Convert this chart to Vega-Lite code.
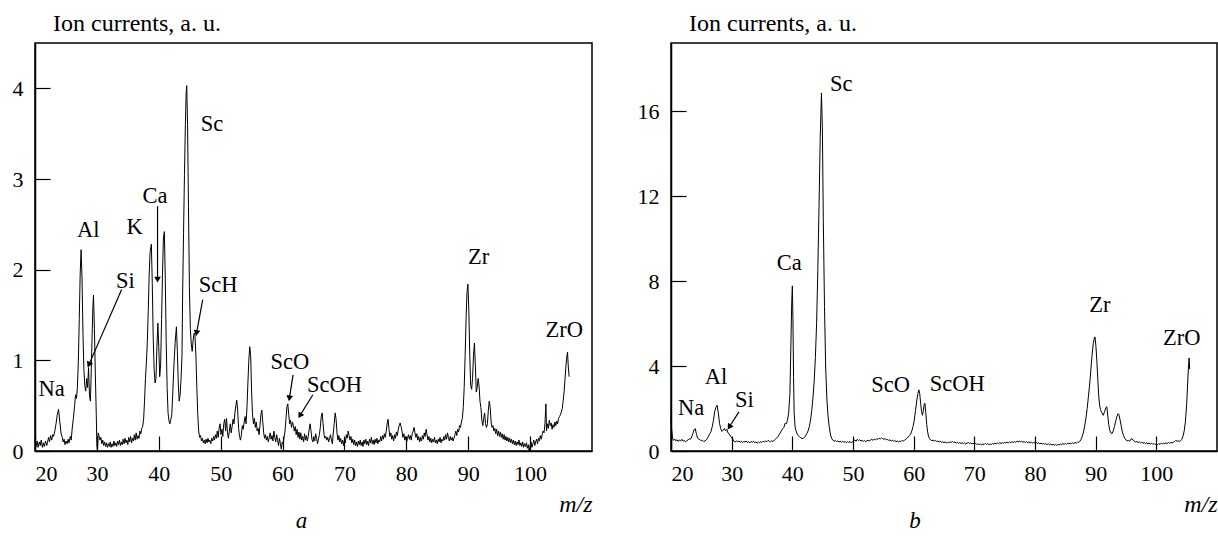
{
"$schema": "https://vega.github.io/schema/vega-lite/v6.json",
"background": "white",
"padding": {"left": 11, "top": 10, "right": 0, "bottom": 0},
"spacing": 43,
"config": {
  "font": "Liberation Serif",
  "view": {"stroke": "black", "strokeWidth": 1.5},
  "axis": {"grid": false, "domainColor": "black", "domainWidth": 1.5, "tickColor": "black", "tickWidth": 1.2, "tickSize": -15,
    "labelFont": "Liberation Serif", "labelFontSize": 22, "labelColor": "black",
    "titleFont": "Liberation Serif", "titleFontSize": 24, "titleFontWeight": "normal", "titleColor": "black"},
  "axisX": {"labelPadding": 27.5, "labelAngle": 0},
  "axisY": {"labelPadding": 27, "format": "d"},
  "title": {"font": "Liberation Serif", "fontSize": 23, "fontWeight": "normal", "fontStyle": "italic", "color": "black"}
},
"datasets": {
  "specA": [
{"mz":20.0,"val":0.12},{"mz":20.2,"val":0.05},{"mz":20.35,"val":0.11},{"mz":20.5,"val":0.04},{"mz":20.7,"val":0.10},{"mz":20.85,"val":0.06},{"mz":21.0,"val":0.12},{"mz":21.2,"val":0.04},{"mz":21.35,"val":0.09},{"mz":21.5,"val":0.05},{"mz":21.7,"val":0.11},{"mz":21.9,"val":0.06},{"mz":22.0,"val":0.09},{"mz":22.2,"val":0.15},{"mz":22.35,"val":0.10},{"mz":22.5,"val":0.17},{"mz":22.7,"val":0.12},{"mz":22.85,"val":0.18},{"mz":23.0,"val":0.16},{"mz":23.2,"val":0.22},{"mz":23.4,"val":0.30},{"mz":23.6,"val":0.40},{"mz":23.8,"val":0.46},{"mz":24.0,"val":0.33},{"mz":24.2,"val":0.20},{"mz":24.4,"val":0.15},{"mz":24.55,"val":0.10},{"mz":24.7,"val":0.13},{"mz":24.85,"val":0.07},{"mz":25.0,"val":0.11},{"mz":25.2,"val":0.08},{"mz":25.35,"val":0.13},{"mz":25.5,"val":0.09},{"mz":25.7,"val":0.16},{"mz":25.85,"val":0.12},{"mz":26.0,"val":0.24},{"mz":26.2,"val":0.36},{"mz":26.4,"val":0.50},{"mz":26.55,"val":0.62},{"mz":26.7,"val":0.58},{"mz":26.85,"val":0.70},{"mz":27.0,"val":0.98},{"mz":27.15,"val":1.45},{"mz":27.3,"val":1.95},{"mz":27.45,"val":2.22},{"mz":27.6,"val":1.90},{"mz":27.75,"val":1.30},{"mz":27.9,"val":0.90},{"mz":28.05,"val":0.72},{"mz":28.2,"val":0.66},{"mz":28.35,"val":0.80},{"mz":28.5,"val":0.70},{"mz":28.65,"val":0.92},{"mz":28.8,"val":0.62},{"mz":28.95,"val":0.55},{"mz":29.05,"val":0.78},{"mz":29.2,"val":1.20},{"mz":29.35,"val":1.58},{"mz":29.45,"val":1.72},{"mz":29.6,"val":1.35},{"mz":29.75,"val":0.85},{"mz":29.9,"val":0.40},{"mz":30.0,"val":0.05},{"mz":30.1,"val":0.00},{"mz":30.2,"val":0.20},{"mz":30.35,"val":0.17},{"mz":30.5,"val":0.12},{"mz":30.65,"val":0.15},{"mz":30.8,"val":0.08},{"mz":30.95,"val":0.12},{"mz":31.1,"val":0.06},{"mz":31.25,"val":0.10},{"mz":31.4,"val":0.05},{"mz":31.55,"val":0.09},{"mz":31.7,"val":0.04},{"mz":31.85,"val":0.08},{"mz":32.0,"val":0.05},{"mz":32.15,"val":0.10},{"mz":32.3,"val":0.04},{"mz":32.45,"val":0.08},{"mz":32.6,"val":0.05},{"mz":32.75,"val":0.11},{"mz":32.9,"val":0.06},{"mz":33.05,"val":0.09},{"mz":33.2,"val":0.05},{"mz":33.35,"val":0.11},{"mz":33.5,"val":0.07},{"mz":33.65,"val":0.12},{"mz":33.8,"val":0.06},{"mz":33.95,"val":0.10},{"mz":34.1,"val":0.07},{"mz":34.25,"val":0.13},{"mz":34.4,"val":0.08},{"mz":34.55,"val":0.14},{"mz":34.7,"val":0.09},{"mz":34.85,"val":0.12},{"mz":35.0,"val":0.07},{"mz":35.15,"val":0.15},{"mz":35.3,"val":0.10},{"mz":35.45,"val":0.16},{"mz":35.6,"val":0.09},{"mz":35.75,"val":0.14},{"mz":35.9,"val":0.11},{"mz":36.05,"val":0.18},{"mz":36.2,"val":0.12},{"mz":36.35,"val":0.20},{"mz":36.5,"val":0.13},{"mz":36.65,"val":0.17},{"mz":36.8,"val":0.14},{"mz":36.95,"val":0.22},{"mz":37.1,"val":0.19},{"mz":37.25,"val":0.25},{"mz":37.4,"val":0.27},{"mz":37.55,"val":0.35},{"mz":37.7,"val":0.55},{"mz":37.85,"val":0.80},{"mz":38.0,"val":0.98},{"mz":38.15,"val":1.20},{"mz":38.3,"val":1.55},{"mz":38.45,"val":1.95},{"mz":38.6,"val":2.20},{"mz":38.8,"val":2.28},{"mz":38.95,"val":1.85},{"mz":39.1,"val":1.25},{"mz":39.25,"val":0.90},{"mz":39.4,"val":0.75},{"mz":39.55,"val":0.80},{"mz":39.7,"val":1.15},{"mz":39.85,"val":1.41},{"mz":40.0,"val":1.15},{"mz":40.15,"val":0.82},{"mz":40.3,"val":0.95},{"mz":40.45,"val":1.45},{"mz":40.6,"val":1.95},{"mz":40.75,"val":2.35},{"mz":40.9,"val":2.42},{"mz":41.05,"val":1.90},{"mz":41.2,"val":1.20},{"mz":41.35,"val":0.70},{"mz":41.5,"val":0.42},{"mz":41.65,"val":0.33},{"mz":41.8,"val":0.30},{"mz":41.95,"val":0.35},{"mz":42.1,"val":0.40},{"mz":42.25,"val":0.62},{"mz":42.45,"val":0.95},{"mz":42.65,"val":1.20},{"mz":42.85,"val":1.37},{"mz":43.0,"val":1.10},{"mz":43.15,"val":0.75},{"mz":43.3,"val":0.55},{"mz":43.45,"val":0.62},{"mz":43.6,"val":0.80},{"mz":43.75,"val":1.05},{"mz":43.85,"val":1.70},{"mz":44.0,"val":2.40},{"mz":44.15,"val":3.05},{"mz":44.3,"val":3.60},{"mz":44.42,"val":3.95},{"mz":44.52,"val":4.03},{"mz":44.65,"val":3.60},{"mz":44.8,"val":2.70},{"mz":44.95,"val":1.80},{"mz":45.1,"val":1.35},{"mz":45.25,"val":1.18},{"mz":45.4,"val":1.10},{"mz":45.55,"val":1.22},{"mz":45.7,"val":1.30},{"mz":45.85,"val":1.28},{"mz":46.0,"val":1.05},{"mz":46.15,"val":0.70},{"mz":46.3,"val":0.40},{"mz":46.45,"val":0.22},{"mz":46.6,"val":0.15},{"mz":46.75,"val":0.17},{"mz":46.9,"val":0.11},{"mz":47.05,"val":0.14},{"mz":47.2,"val":0.09},{"mz":47.35,"val":0.12},{"mz":47.5,"val":0.08},{"mz":47.65,"val":0.13},{"mz":47.8,"val":0.09},{"mz":47.95,"val":0.14},{"mz":48.1,"val":0.10},{"mz":48.25,"val":0.12},{"mz":48.4,"val":0.08},{"mz":48.55,"val":0.14},{"mz":48.7,"val":0.11},{"mz":48.85,"val":0.16},{"mz":49.0,"val":0.12},{"mz":49.15,"val":0.18},{"mz":49.3,"val":0.14},{"mz":49.45,"val":0.22},{"mz":49.6,"val":0.15},{"mz":49.75,"val":0.25},{"mz":49.9,"val":0.30},{"mz":50.05,"val":0.18},{"mz":50.2,"val":0.24},{"mz":50.35,"val":0.16},{"mz":50.5,"val":0.30},{"mz":50.65,"val":0.35},{"mz":50.8,"val":0.22},{"mz":50.95,"val":0.36},{"mz":51.1,"val":0.20},{"mz":51.25,"val":0.14},{"mz":51.4,"val":0.22},{"mz":51.55,"val":0.30},{"mz":51.7,"val":0.20},{"mz":51.85,"val":0.27},{"mz":52.0,"val":0.35},{"mz":52.15,"val":0.30},{"mz":52.3,"val":0.42},{"mz":52.45,"val":0.50},{"mz":52.6,"val":0.56},{"mz":52.75,"val":0.45},{"mz":52.9,"val":0.25},{"mz":53.05,"val":0.16},{"mz":53.2,"val":0.12},{"mz":53.35,"val":0.18},{"mz":53.5,"val":0.28},{"mz":53.65,"val":0.24},{"mz":53.8,"val":0.32},{"mz":53.95,"val":0.38},{"mz":54.1,"val":0.30},{"mz":54.25,"val":0.48},{"mz":54.4,"val":0.75},{"mz":54.55,"val":1.00},{"mz":54.7,"val":1.15},{"mz":54.85,"val":1.05},{"mz":55.0,"val":0.65},{"mz":55.15,"val":0.40},{"mz":55.3,"val":0.30},{"mz":55.45,"val":0.36},{"mz":55.6,"val":0.26},{"mz":55.75,"val":0.32},{"mz":55.9,"val":0.22},{"mz":56.05,"val":0.25},{"mz":56.2,"val":0.18},{"mz":56.35,"val":0.28},{"mz":56.5,"val":0.40},{"mz":56.65,"val":0.45},{"mz":56.8,"val":0.32},{"mz":56.95,"val":0.20},{"mz":57.1,"val":0.14},{"mz":57.25,"val":0.18},{"mz":57.4,"val":0.12},{"mz":57.55,"val":0.16},{"mz":57.7,"val":0.10},{"mz":57.85,"val":0.15},{"mz":58.0,"val":0.20},{"mz":58.15,"val":0.13},{"mz":58.3,"val":0.17},{"mz":58.45,"val":0.11},{"mz":58.6,"val":0.22},{"mz":58.75,"val":0.15},{"mz":58.9,"val":0.10},{"mz":59.05,"val":0.18},{"mz":59.2,"val":0.12},{"mz":59.35,"val":0.06},{"mz":59.5,"val":0.14},{"mz":59.65,"val":0.08},{"mz":59.8,"val":0.02},{"mz":59.95,"val":0.10},{"mz":60.1,"val":0.08},{"mz":60.25,"val":0.15},{"mz":60.4,"val":0.22},{"mz":60.55,"val":0.35},{"mz":60.7,"val":0.49},{"mz":60.85,"val":0.52},{"mz":61.0,"val":0.40},{"mz":61.15,"val":0.30},{"mz":61.3,"val":0.34},{"mz":61.45,"val":0.26},{"mz":61.6,"val":0.32},{"mz":61.75,"val":0.28},{"mz":61.9,"val":0.22},{"mz":62.05,"val":0.27},{"mz":62.2,"val":0.18},{"mz":62.35,"val":0.24},{"mz":62.5,"val":0.15},{"mz":62.65,"val":0.21},{"mz":62.8,"val":0.13},{"mz":62.95,"val":0.20},{"mz":63.1,"val":0.12},{"mz":63.25,"val":0.16},{"mz":63.4,"val":0.10},{"mz":63.55,"val":0.19},{"mz":63.7,"val":0.12},{"mz":63.85,"val":0.17},{"mz":64.0,"val":0.11},{"mz":64.15,"val":0.16},{"mz":64.3,"val":0.24},{"mz":64.45,"val":0.30},{"mz":64.6,"val":0.22},{"mz":64.75,"val":0.13},{"mz":64.9,"val":0.10},{"mz":65.05,"val":0.16},{"mz":65.2,"val":0.11},{"mz":65.35,"val":0.19},{"mz":65.5,"val":0.14},{"mz":65.65,"val":0.08},{"mz":65.8,"val":0.13},{"mz":65.95,"val":0.18},{"mz":66.1,"val":0.26},{"mz":66.25,"val":0.38},{"mz":66.4,"val":0.42},{"mz":66.55,"val":0.30},{"mz":66.7,"val":0.18},{"mz":66.85,"val":0.14},{"mz":67.0,"val":0.16},{"mz":67.15,"val":0.12},{"mz":67.3,"val":0.15},{"mz":67.45,"val":0.10},{"mz":67.6,"val":0.14},{"mz":67.75,"val":0.18},{"mz":67.9,"val":0.12},{"mz":68.05,"val":0.08},{"mz":68.2,"val":0.20},{"mz":68.35,"val":0.30},{"mz":68.5,"val":0.42},{"mz":68.65,"val":0.35},{"mz":68.8,"val":0.20},{"mz":68.95,"val":0.12},{"mz":69.1,"val":0.17},{"mz":69.25,"val":0.10},{"mz":69.4,"val":0.14},{"mz":69.55,"val":0.08},{"mz":69.7,"val":0.12},{"mz":69.85,"val":0.06},{"mz":70.0,"val":0.13},{"mz":70.15,"val":0.09},{"mz":70.3,"val":0.18},{"mz":70.45,"val":0.14},{"mz":70.6,"val":0.22},{"mz":70.75,"val":0.17},{"mz":70.9,"val":0.12},{"mz":71.05,"val":0.16},{"mz":71.2,"val":0.09},{"mz":71.35,"val":0.13},{"mz":71.5,"val":0.07},{"mz":71.65,"val":0.12},{"mz":71.8,"val":0.06},{"mz":71.95,"val":0.10},{"mz":72.1,"val":0.05},{"mz":72.25,"val":0.11},{"mz":72.4,"val":0.07},{"mz":72.55,"val":0.12},{"mz":72.7,"val":0.06},{"mz":72.85,"val":0.10},{"mz":73.0,"val":0.05},{"mz":73.15,"val":0.12},{"mz":73.3,"val":0.08},{"mz":73.45,"val":0.13},{"mz":73.6,"val":0.07},{"mz":73.75,"val":0.11},{"mz":73.9,"val":0.06},{"mz":74.05,"val":0.13},{"mz":74.2,"val":0.09},{"mz":74.35,"val":0.15},{"mz":74.5,"val":0.08},{"mz":74.65,"val":0.12},{"mz":74.8,"val":0.07},{"mz":74.95,"val":0.13},{"mz":75.1,"val":0.09},{"mz":75.25,"val":0.14},{"mz":75.4,"val":0.08},{"mz":75.55,"val":0.12},{"mz":75.7,"val":0.10},{"mz":75.85,"val":0.16},{"mz":76.0,"val":0.11},{"mz":76.15,"val":0.17},{"mz":76.3,"val":0.13},{"mz":76.45,"val":0.19},{"mz":76.6,"val":0.15},{"mz":76.75,"val":0.22},{"mz":76.9,"val":0.30},{"mz":77.05,"val":0.35},{"mz":77.2,"val":0.24},{"mz":77.35,"val":0.16},{"mz":77.5,"val":0.20},{"mz":77.65,"val":0.13},{"mz":77.8,"val":0.17},{"mz":77.95,"val":0.11},{"mz":78.1,"val":0.18},{"mz":78.25,"val":0.14},{"mz":78.4,"val":0.21},{"mz":78.55,"val":0.17},{"mz":78.7,"val":0.24},{"mz":78.85,"val":0.28},{"mz":79.0,"val":0.31},{"mz":79.15,"val":0.27},{"mz":79.3,"val":0.22},{"mz":79.45,"val":0.15},{"mz":79.6,"val":0.19},{"mz":79.75,"val":0.12},{"mz":79.9,"val":0.16},{"mz":80.05,"val":0.10},{"mz":80.2,"val":0.14},{"mz":80.35,"val":0.18},{"mz":80.5,"val":0.13},{"mz":80.65,"val":0.17},{"mz":80.8,"val":0.12},{"mz":80.95,"val":0.19},{"mz":81.1,"val":0.22},{"mz":81.25,"val":0.26},{"mz":81.4,"val":0.20},{"mz":81.55,"val":0.15},{"mz":81.7,"val":0.19},{"mz":81.85,"val":0.12},{"mz":82.0,"val":0.16},{"mz":82.15,"val":0.10},{"mz":82.3,"val":0.15},{"mz":82.45,"val":0.11},{"mz":82.6,"val":0.17},{"mz":82.75,"val":0.13},{"mz":82.9,"val":0.20},{"mz":83.05,"val":0.16},{"mz":83.2,"val":0.24},{"mz":83.35,"val":0.18},{"mz":83.5,"val":0.12},{"mz":83.65,"val":0.16},{"mz":83.8,"val":0.10},{"mz":83.95,"val":0.14},{"mz":84.1,"val":0.09},{"mz":84.25,"val":0.13},{"mz":84.4,"val":0.10},{"mz":84.55,"val":0.15},{"mz":84.7,"val":0.09},{"mz":84.85,"val":0.12},{"mz":85.0,"val":0.08},{"mz":85.15,"val":0.13},{"mz":85.3,"val":0.10},{"mz":85.45,"val":0.15},{"mz":85.6,"val":0.09},{"mz":85.75,"val":0.13},{"mz":85.9,"val":0.11},{"mz":86.05,"val":0.16},{"mz":86.2,"val":0.12},{"mz":86.35,"val":0.18},{"mz":86.5,"val":0.13},{"mz":86.65,"val":0.20},{"mz":86.8,"val":0.15},{"mz":86.95,"val":0.11},{"mz":87.1,"val":0.16},{"mz":87.25,"val":0.12},{"mz":87.4,"val":0.15},{"mz":87.55,"val":0.11},{"mz":87.7,"val":0.14},{"mz":87.85,"val":0.18},{"mz":88.0,"val":0.22},{"mz":88.15,"val":0.17},{"mz":88.3,"val":0.24},{"mz":88.45,"val":0.21},{"mz":88.6,"val":0.28},{"mz":88.75,"val":0.26},{"mz":88.9,"val":0.32},{"mz":89.05,"val":0.36},{"mz":89.2,"val":0.48},{"mz":89.35,"val":0.70},{"mz":89.5,"val":1.05},{"mz":89.65,"val":1.45},{"mz":89.8,"val":1.75},{"mz":89.95,"val":1.84},{"mz":90.1,"val":1.55},{"mz":90.25,"val":1.05},{"mz":90.4,"val":0.72},{"mz":90.55,"val":0.68},{"mz":90.7,"val":0.80},{"mz":90.85,"val":1.05},{"mz":91.0,"val":1.19},{"mz":91.15,"val":0.95},{"mz":91.3,"val":0.65},{"mz":91.45,"val":0.70},{"mz":91.6,"val":0.80},{"mz":91.75,"val":0.72},{"mz":91.9,"val":0.55},{"mz":92.05,"val":0.48},{"mz":92.2,"val":0.34},{"mz":92.35,"val":0.28},{"mz":92.5,"val":0.36},{"mz":92.65,"val":0.42},{"mz":92.8,"val":0.30},{"mz":92.95,"val":0.26},{"mz":93.1,"val":0.30},{"mz":93.25,"val":0.45},{"mz":93.4,"val":0.55},{"mz":93.55,"val":0.48},{"mz":93.7,"val":0.32},{"mz":93.85,"val":0.26},{"mz":94.0,"val":0.28},{"mz":94.15,"val":0.22},{"mz":94.3,"val":0.25},{"mz":94.45,"val":0.19},{"mz":94.6,"val":0.24},{"mz":94.75,"val":0.17},{"mz":94.9,"val":0.22},{"mz":95.05,"val":0.16},{"mz":95.2,"val":0.21},{"mz":95.35,"val":0.15},{"mz":95.5,"val":0.19},{"mz":95.65,"val":0.13},{"mz":95.8,"val":0.18},{"mz":95.95,"val":0.12},{"mz":96.1,"val":0.16},{"mz":96.25,"val":0.11},{"mz":96.4,"val":0.15},{"mz":96.55,"val":0.10},{"mz":96.7,"val":0.14},{"mz":96.85,"val":0.09},{"mz":97.0,"val":0.13},{"mz":97.15,"val":0.08},{"mz":97.3,"val":0.12},{"mz":97.45,"val":0.07},{"mz":97.6,"val":0.11},{"mz":97.75,"val":0.06},{"mz":97.9,"val":0.10},{"mz":98.05,"val":0.07},{"mz":98.2,"val":0.12},{"mz":98.35,"val":0.06},{"mz":98.5,"val":0.09},{"mz":98.65,"val":0.05},{"mz":98.8,"val":0.10},{"mz":98.95,"val":0.04},{"mz":99.1,"val":0.08},{"mz":99.25,"val":0.05},{"mz":99.4,"val":0.09},{"mz":99.55,"val":0.03},{"mz":99.7,"val":0.07},{"mz":99.85,"val":0.00},{"mz":100.0,"val":0.06},{"mz":100.15,"val":0.10},{"mz":100.3,"val":0.04},{"mz":100.45,"val":0.08},{"mz":100.6,"val":0.12},{"mz":100.75,"val":0.06},{"mz":100.9,"val":0.10},{"mz":101.05,"val":0.13},{"mz":101.2,"val":0.08},{"mz":101.35,"val":0.14},{"mz":101.5,"val":0.11},{"mz":101.65,"val":0.17},{"mz":101.8,"val":0.13},{"mz":101.95,"val":0.18},{"mz":102.1,"val":0.22},{"mz":102.25,"val":0.20},{"mz":102.4,"val":0.30},{"mz":102.55,"val":0.52},{"mz":102.65,"val":0.22},{"mz":102.8,"val":0.30},{"mz":102.95,"val":0.25},{"mz":103.1,"val":0.34},{"mz":103.25,"val":0.28},{"mz":103.4,"val":0.31},{"mz":103.55,"val":0.24},{"mz":103.7,"val":0.29},{"mz":103.85,"val":0.26},{"mz":104.0,"val":0.32},{"mz":104.15,"val":0.28},{"mz":104.3,"val":0.33},{"mz":104.45,"val":0.30},{"mz":104.6,"val":0.36},{"mz":104.75,"val":0.38},{"mz":104.9,"val":0.40},{"mz":105.05,"val":0.43},{"mz":105.2,"val":0.47},{"mz":105.35,"val":0.56},{"mz":105.5,"val":0.66},{"mz":105.65,"val":0.80},{"mz":105.8,"val":0.95},{"mz":105.95,"val":1.05},{"mz":106.05,"val":1.09},{"mz":106.15,"val":0.95},{"mz":106.3,"val":0.82}
  ],
  "specB": [
{"mz":20.0,"val":1.70},{"mz":20.1,"val":1.05},{"mz":20.25,"val":0.62},{"mz":20.4,"val":0.50},{"mz":20.6,"val":0.56},{"mz":20.8,"val":0.48},{"mz":21.0,"val":0.53},{"mz":21.2,"val":0.45},{"mz":21.4,"val":0.52},{"mz":21.6,"val":0.47},{"mz":21.8,"val":0.55},{"mz":22.0,"val":0.46},{"mz":22.2,"val":0.50},{"mz":22.4,"val":0.43},{"mz":22.6,"val":0.48},{"mz":22.8,"val":0.52},{"mz":23.0,"val":0.58},{"mz":23.2,"val":0.55},{"mz":23.4,"val":0.66},{"mz":23.6,"val":0.82},{"mz":23.8,"val":1.00},{"mz":24.0,"val":1.05},{"mz":24.2,"val":0.78},{"mz":24.4,"val":0.60},{"mz":24.6,"val":0.56},{"mz":24.8,"val":0.52},{"mz":25.0,"val":0.48},{"mz":25.2,"val":0.50},{"mz":25.4,"val":0.44},{"mz":25.6,"val":0.47},{"mz":25.8,"val":0.52},{"mz":26.0,"val":0.60},{"mz":26.2,"val":0.70},{"mz":26.4,"val":0.82},{"mz":26.6,"val":0.92},{"mz":26.8,"val":1.15},{"mz":27.0,"val":1.45},{"mz":27.2,"val":1.85},{"mz":27.4,"val":2.05},{"mz":27.6,"val":2.15},{"mz":27.8,"val":1.80},{"mz":28.0,"val":1.30},{"mz":28.2,"val":1.05},{"mz":28.4,"val":0.92},{"mz":28.6,"val":0.98},{"mz":28.8,"val":1.06},{"mz":29.0,"val":0.95},{"mz":29.2,"val":1.02},{"mz":29.4,"val":0.85},{"mz":29.6,"val":0.80},{"mz":29.8,"val":0.70},{"mz":30.0,"val":0.62},{"mz":30.2,"val":0.55},{"mz":30.4,"val":0.45},{"mz":30.6,"val":0.42},{"mz":30.8,"val":0.48},{"mz":31.0,"val":0.43},{"mz":31.2,"val":0.47},{"mz":31.4,"val":0.41},{"mz":31.6,"val":0.46},{"mz":31.8,"val":0.40},{"mz":32.0,"val":0.45},{"mz":32.2,"val":0.42},{"mz":32.4,"val":0.47},{"mz":32.6,"val":0.40},{"mz":32.8,"val":0.44},{"mz":33.0,"val":0.38},{"mz":33.2,"val":0.45},{"mz":33.4,"val":0.41},{"mz":33.6,"val":0.46},{"mz":33.8,"val":0.39},{"mz":34.0,"val":0.43},{"mz":34.2,"val":0.37},{"mz":34.4,"val":0.42},{"mz":34.6,"val":0.39},{"mz":34.8,"val":0.44},{"mz":35.0,"val":0.40},{"mz":35.2,"val":0.46},{"mz":35.4,"val":0.42},{"mz":35.6,"val":0.48},{"mz":35.8,"val":0.44},{"mz":36.0,"val":0.50},{"mz":36.2,"val":0.46},{"mz":36.4,"val":0.43},{"mz":36.6,"val":0.48},{"mz":36.8,"val":0.45},{"mz":37.0,"val":0.50},{"mz":37.2,"val":0.55},{"mz":37.4,"val":0.60},{"mz":37.6,"val":0.66},{"mz":37.8,"val":0.75},{"mz":38.0,"val":0.85},{"mz":38.2,"val":0.95},{"mz":38.4,"val":1.05},{"mz":38.6,"val":1.10},{"mz":38.8,"val":1.30},{"mz":39.0,"val":1.28},{"mz":39.2,"val":1.45},{"mz":39.4,"val":1.80},{"mz":39.6,"val":2.70},{"mz":39.75,"val":4.80},{"mz":39.9,"val":7.00},{"mz":40.0,"val":7.77},{"mz":40.1,"val":6.20},{"mz":40.2,"val":3.50},{"mz":40.3,"val":1.80},{"mz":40.45,"val":1.15},{"mz":40.6,"val":0.95},{"mz":40.8,"val":0.80},{"mz":41.0,"val":0.72},{"mz":41.2,"val":0.66},{"mz":41.4,"val":0.62},{"mz":41.6,"val":0.58},{"mz":41.8,"val":0.60},{"mz":42.0,"val":0.64},{"mz":42.2,"val":0.72},{"mz":42.4,"val":0.82},{"mz":42.6,"val":0.95},{"mz":42.8,"val":1.15},{"mz":43.0,"val":1.45},{"mz":43.2,"val":1.90},{"mz":43.4,"val":2.50},{"mz":43.6,"val":3.30},{"mz":43.8,"val":4.40},{"mz":44.0,"val":6.00},{"mz":44.2,"val":8.50},{"mz":44.4,"val":11.50},{"mz":44.6,"val":14.80},{"mz":44.8,"val":16.85},{"mz":44.95,"val":15.20},{"mz":45.1,"val":11.00},{"mz":45.3,"val":6.80},{"mz":45.5,"val":3.90},{"mz":45.7,"val":2.40},{"mz":45.9,"val":1.60},{"mz":46.1,"val":1.10},{"mz":46.3,"val":0.75},{"mz":46.5,"val":0.58},{"mz":46.7,"val":0.50},{"mz":46.9,"val":0.46},{"mz":47.1,"val":0.50},{"mz":47.3,"val":0.44},{"mz":47.5,"val":0.48},{"mz":47.7,"val":0.42},{"mz":47.9,"val":0.47},{"mz":48.1,"val":0.41},{"mz":48.3,"val":0.46},{"mz":48.5,"val":0.40},{"mz":48.7,"val":0.45},{"mz":48.9,"val":0.39},{"mz":49.1,"val":0.44},{"mz":49.3,"val":0.40},{"mz":49.5,"val":0.45},{"mz":49.7,"val":0.38},{"mz":49.9,"val":0.43},{"mz":50.1,"val":0.48},{"mz":50.3,"val":0.52},{"mz":50.5,"val":0.46},{"mz":50.7,"val":0.55},{"mz":50.9,"val":0.49},{"mz":51.1,"val":0.53},{"mz":51.3,"val":0.47},{"mz":51.5,"val":0.50},{"mz":51.7,"val":0.45},{"mz":51.9,"val":0.49},{"mz":52.1,"val":0.44},{"mz":52.3,"val":0.48},{"mz":52.5,"val":0.51},{"mz":52.7,"val":0.46},{"mz":52.9,"val":0.52},{"mz":53.1,"val":0.55},{"mz":53.3,"val":0.50},{"mz":53.5,"val":0.56},{"mz":53.7,"val":0.52},{"mz":53.9,"val":0.58},{"mz":54.1,"val":0.54},{"mz":54.3,"val":0.60},{"mz":54.5,"val":0.57},{"mz":54.7,"val":0.62},{"mz":54.9,"val":0.58},{"mz":55.1,"val":0.55},{"mz":55.3,"val":0.59},{"mz":55.5,"val":0.52},{"mz":55.7,"val":0.55},{"mz":55.9,"val":0.49},{"mz":56.1,"val":0.53},{"mz":56.3,"val":0.47},{"mz":56.5,"val":0.51},{"mz":56.7,"val":0.45},{"mz":56.9,"val":0.50},{"mz":57.1,"val":0.43},{"mz":57.3,"val":0.48},{"mz":57.5,"val":0.42},{"mz":57.7,"val":0.47},{"mz":57.9,"val":0.44},{"mz":58.1,"val":0.50},{"mz":58.3,"val":0.46},{"mz":58.5,"val":0.52},{"mz":58.7,"val":0.55},{"mz":58.9,"val":0.60},{"mz":59.1,"val":0.66},{"mz":59.3,"val":0.72},{"mz":59.5,"val":0.80},{"mz":59.7,"val":0.95},{"mz":59.9,"val":1.15},{"mz":60.1,"val":1.45},{"mz":60.3,"val":1.90},{"mz":60.5,"val":2.35},{"mz":60.7,"val":2.70},{"mz":60.85,"val":2.88},{"mz":61.0,"val":2.70},{"mz":61.15,"val":2.25},{"mz":61.3,"val":1.85},{"mz":61.45,"val":1.68},{"mz":61.6,"val":1.90},{"mz":61.75,"val":2.22},{"mz":61.85,"val":2.25},{"mz":62.0,"val":1.80},{"mz":62.15,"val":1.25},{"mz":62.3,"val":0.90},{"mz":62.45,"val":0.70},{"mz":62.6,"val":0.58},{"mz":62.8,"val":0.52},{"mz":63.0,"val":0.48},{"mz":63.2,"val":0.52},{"mz":63.4,"val":0.46},{"mz":63.6,"val":0.50},{"mz":63.8,"val":0.44},{"mz":64.0,"val":0.48},{"mz":64.2,"val":0.42},{"mz":64.4,"val":0.46},{"mz":64.6,"val":0.40},{"mz":64.8,"val":0.44},{"mz":65.0,"val":0.39},{"mz":65.2,"val":0.43},{"mz":65.4,"val":0.37},{"mz":65.6,"val":0.42},{"mz":65.8,"val":0.38},{"mz":66.0,"val":0.44},{"mz":66.2,"val":0.40},{"mz":66.4,"val":0.45},{"mz":66.6,"val":0.39},{"mz":66.8,"val":0.43},{"mz":67.0,"val":0.37},{"mz":67.2,"val":0.41},{"mz":67.4,"val":0.36},{"mz":67.6,"val":0.40},{"mz":67.8,"val":0.35},{"mz":68.0,"val":0.39},{"mz":68.2,"val":0.34},{"mz":68.4,"val":0.38},{"mz":68.6,"val":0.33},{"mz":68.8,"val":0.37},{"mz":69.0,"val":0.40},{"mz":69.2,"val":0.35},{"mz":69.4,"val":0.39},{"mz":69.6,"val":0.33},{"mz":69.8,"val":0.37},{"mz":70.0,"val":0.32},{"mz":70.2,"val":0.36},{"mz":70.4,"val":0.30},{"mz":70.6,"val":0.35},{"mz":70.8,"val":0.29},{"mz":71.0,"val":0.34},{"mz":71.2,"val":0.28},{"mz":71.4,"val":0.33},{"mz":71.6,"val":0.30},{"mz":71.8,"val":0.36},{"mz":72.0,"val":0.31},{"mz":72.2,"val":0.35},{"mz":72.4,"val":0.29},{"mz":72.6,"val":0.34},{"mz":72.8,"val":0.30},{"mz":73.0,"val":0.36},{"mz":73.2,"val":0.32},{"mz":73.4,"val":0.37},{"mz":73.6,"val":0.33},{"mz":73.8,"val":0.38},{"mz":74.0,"val":0.34},{"mz":74.2,"val":0.39},{"mz":74.4,"val":0.35},{"mz":74.6,"val":0.40},{"mz":74.8,"val":0.36},{"mz":75.0,"val":0.41},{"mz":75.2,"val":0.37},{"mz":75.4,"val":0.42},{"mz":75.6,"val":0.38},{"mz":75.8,"val":0.43},{"mz":76.0,"val":0.39},{"mz":76.2,"val":0.44},{"mz":76.4,"val":0.40},{"mz":76.6,"val":0.45},{"mz":76.8,"val":0.41},{"mz":77.0,"val":0.46},{"mz":77.2,"val":0.42},{"mz":77.4,"val":0.47},{"mz":77.6,"val":0.43},{"mz":77.8,"val":0.46},{"mz":78.0,"val":0.41},{"mz":78.2,"val":0.45},{"mz":78.4,"val":0.40},{"mz":78.6,"val":0.44},{"mz":78.8,"val":0.39},{"mz":79.0,"val":0.43},{"mz":79.2,"val":0.38},{"mz":79.4,"val":0.42},{"mz":79.6,"val":0.37},{"mz":79.8,"val":0.41},{"mz":80.0,"val":0.36},{"mz":80.2,"val":0.40},{"mz":80.4,"val":0.35},{"mz":80.6,"val":0.39},{"mz":80.8,"val":0.34},{"mz":81.0,"val":0.37},{"mz":81.2,"val":0.33},{"mz":81.4,"val":0.36},{"mz":81.6,"val":0.31},{"mz":81.8,"val":0.35},{"mz":82.0,"val":0.30},{"mz":82.2,"val":0.34},{"mz":82.4,"val":0.29},{"mz":82.6,"val":0.33},{"mz":82.8,"val":0.28},{"mz":83.0,"val":0.32},{"mz":83.2,"val":0.27},{"mz":83.4,"val":0.31},{"mz":83.6,"val":0.26},{"mz":83.8,"val":0.32},{"mz":84.0,"val":0.28},{"mz":84.2,"val":0.34},{"mz":84.4,"val":0.30},{"mz":84.6,"val":0.35},{"mz":84.8,"val":0.31},{"mz":85.0,"val":0.36},{"mz":85.2,"val":0.32},{"mz":85.4,"val":0.37},{"mz":85.6,"val":0.33},{"mz":85.8,"val":0.38},{"mz":86.0,"val":0.34},{"mz":86.2,"val":0.39},{"mz":86.4,"val":0.35},{"mz":86.6,"val":0.40},{"mz":86.8,"val":0.37},{"mz":87.0,"val":0.42},{"mz":87.2,"val":0.40},{"mz":87.4,"val":0.46},{"mz":87.6,"val":0.55},{"mz":87.8,"val":0.70},{"mz":88.0,"val":0.90},{"mz":88.2,"val":1.20},{"mz":88.4,"val":1.55},{"mz":88.6,"val":2.00},{"mz":88.8,"val":2.55},{"mz":89.0,"val":3.10},{"mz":89.2,"val":3.80},{"mz":89.4,"val":4.50},{"mz":89.6,"val":5.05},{"mz":89.8,"val":5.35},{"mz":89.9,"val":5.37},{"mz":90.05,"val":4.90},{"mz":90.2,"val":4.20},{"mz":90.35,"val":3.40},{"mz":90.5,"val":2.60},{"mz":90.65,"val":2.15},{"mz":90.8,"val":1.95},{"mz":90.95,"val":1.85},{"mz":91.1,"val":1.75},{"mz":91.25,"val":1.68},{"mz":91.4,"val":1.80},{"mz":91.55,"val":1.92},{"mz":91.7,"val":2.05},{"mz":91.85,"val":2.08},{"mz":92.0,"val":1.65},{"mz":92.15,"val":1.25},{"mz":92.3,"val":1.00},{"mz":92.5,"val":0.85},{"mz":92.7,"val":0.82},{"mz":92.9,"val":0.95},{"mz":93.1,"val":1.15},{"mz":93.3,"val":1.40},{"mz":93.5,"val":1.62},{"mz":93.7,"val":1.76},{"mz":93.85,"val":1.70},{"mz":94.0,"val":1.50},{"mz":94.2,"val":1.20},{"mz":94.4,"val":0.90},{"mz":94.6,"val":0.72},{"mz":94.8,"val":0.60},{"mz":95.0,"val":0.52},{"mz":95.2,"val":0.48},{"mz":95.4,"val":0.50},{"mz":95.6,"val":0.46},{"mz":95.8,"val":0.55},{"mz":96.0,"val":0.58},{"mz":96.2,"val":0.50},{"mz":96.4,"val":0.46},{"mz":96.6,"val":0.42},{"mz":96.8,"val":0.45},{"mz":97.0,"val":0.40},{"mz":97.2,"val":0.43},{"mz":97.4,"val":0.38},{"mz":97.6,"val":0.42},{"mz":97.8,"val":0.36},{"mz":98.0,"val":0.40},{"mz":98.2,"val":0.35},{"mz":98.4,"val":0.39},{"mz":98.6,"val":0.33},{"mz":98.8,"val":0.38},{"mz":99.0,"val":0.32},{"mz":99.2,"val":0.37},{"mz":99.4,"val":0.31},{"mz":99.6,"val":0.36},{"mz":99.8,"val":0.30},{"mz":100.0,"val":0.34},{"mz":100.2,"val":0.29},{"mz":100.4,"val":0.35},{"mz":100.6,"val":0.31},{"mz":100.8,"val":0.37},{"mz":101.0,"val":0.33},{"mz":101.2,"val":0.38},{"mz":101.4,"val":0.34},{"mz":101.6,"val":0.39},{"mz":101.8,"val":0.35},{"mz":102.0,"val":0.40},{"mz":102.2,"val":0.36},{"mz":102.4,"val":0.41},{"mz":102.6,"val":0.37},{"mz":102.8,"val":0.42},{"mz":103.0,"val":0.44},{"mz":103.2,"val":0.50},{"mz":103.4,"val":0.46},{"mz":103.6,"val":0.48},{"mz":103.8,"val":0.45},{"mz":104.0,"val":0.48},{"mz":104.2,"val":0.55},{"mz":104.4,"val":0.70},{"mz":104.6,"val":0.95},{"mz":104.8,"val":1.40},{"mz":105.0,"val":2.20},{"mz":105.15,"val":3.10},{"mz":105.3,"val":4.00},{"mz":105.4,"val":4.38},{"mz":105.5,"val":3.85}
  ],
  "labA": [
{"mz":22.7,"val":0.68,"label":"Na"},{"mz":28.6,"val":2.44,"label":"Al"},{"mz":36.1,"val":2.47,"label":"K"},{"mz":39.4,"val":2.81,"label":"Ca"},{"mz":34.6,"val":1.87,"label":"Si"},{"mz":48.6,"val":3.61,"label":"Sc"},{"mz":49.6,"val":1.83,"label":"ScH"},{"mz":61.2,"val":0.98,"label":"ScO"},{"mz":68.4,"val":0.73,"label":"ScOH"},{"mz":91.7,"val":2.14,"label":"Zr"},{"mz":105.5,"val":1.33,"label":"ZrO"}
  ],
  "labB": [
{"mz":23.3,"val":2.03,"label":"Na"},{"mz":27.4,"val":3.49,"label":"Al"},{"mz":32.1,"val":2.39,"label":"Si"},{"mz":39.5,"val":8.86,"label":"Ca"},{"mz":48.05,"val":17.25,"label":"Sc"},{"mz":56.2,"val":3.1,"label":"ScO"},{"mz":67.2,"val":3.17,"label":"ScOH"},{"mz":90.7,"val":6.87,"label":"Zr"},{"mz":104.2,"val":5.3,"label":"ZrO"}
  ],
  "arrA": [
{"mz":34.0,"val":1.78,"mz2":28.7,"val2":0.95,"angle":204},
{"mz":39.8,"val":2.70,"mz2":39.8,"val2":1.89,"angle":180},
{"mz":47.1,"val":1.67,"mz2":46.1,"val2":1.30,"angle":190},
{"mz":61.7,"val":0.84,"mz2":61.1,"val2":0.58,"angle":189},
{"mz":64.9,"val":0.62,"mz2":62.8,"val2":0.39,"angle":212}
  ],
  "arrB": [
{"mz":31.2,"val":1.84,"mz2":29.6,"val2":1.13,"angle":213}
  ]
},
"hconcat": [
  {
    "width": 557, "height": 408,
    "title": {"text": "a", "orient": "bottom", "anchor": "middle", "dx": -12, "offset": -6},
    "layer": [
      {"data": {"name": "specA"}, "mark": {"type": "line", "color": "black", "strokeWidth": 1},
       "encoding": {
         "x": {"field": "mz", "type": "quantitative", "scale": {"domain": [20, 110], "nice": false, "zero": false},
               "axis": {"values": [20,30,40,50,60,70,80,90,100], "title": "m/z", "titleFontStyle": "italic", "titleAlign": "right", "titleX": 557, "titleY": 60, "titleBaseline": "alphabetic"}},
         "y": {"field": "val", "type": "quantitative", "scale": {"domain": [0, 4.5], "nice": false},
               "axis": {"values": [0,1,2,3,4], "title": "Ion currents, a. u.", "titleAngle": 0, "titleAlign": "left", "titleBaseline": "alphabetic", "titleX": 17.5, "titleY": -12.7}}
       }},
      {"data": {"name": "labA"}, "mark": {"type": "text", "font": "Liberation Serif", "fontSize": 22.5, "color": "black", "align": "center", "baseline": "middle"},
       "encoding": {"x": {"field": "mz", "type": "quantitative"}, "y": {"field": "val", "type": "quantitative"}, "text": {"field": "label"}}},
      {"data": {"name": "arrA"}, "mark": {"type": "rule", "color": "black", "strokeWidth": 1.2},
       "encoding": {"x": {"field": "mz", "type": "quantitative"}, "y": {"field": "val", "type": "quantitative"}, "x2": {"field": "mz2"}, "y2": {"field": "val2"}}},
      {"data": {"name": "arrA"}, "mark": {"type": "point", "shape": "triangle-up", "filled": true, "size": 45, "color": "black", "opacity": 1},
       "encoding": {"x": {"field": "mz2", "type": "quantitative"}, "y": {"field": "val2", "type": "quantitative"}, "angle": {"field": "angle", "type": "quantitative", "scale": null}}}
    ]
  },
  {
    "width": 546, "height": 408,
    "title": {"text": "b", "orient": "bottom", "anchor": "middle", "dx": -29, "offset": -6},
    "layer": [
      {"data": {"name": "specB"}, "mark": {"type": "line", "color": "black", "strokeWidth": 1},
       "encoding": {
         "x": {"field": "mz", "type": "quantitative", "scale": {"domain": [20, 110], "nice": false, "zero": false},
               "axis": {"values": [20,30,40,50,60,70,80,90,100], "title": "m/z", "titleFontStyle": "italic", "titleAlign": "right", "titleX": 546, "titleY": 60, "titleBaseline": "alphabetic"}},
         "y": {"field": "val", "type": "quantitative", "scale": {"domain": [0, 19.2], "nice": false},
               "axis": {"values": [0,4,8,12,16], "title": "Ion currents, a. u.", "titleAngle": 0, "titleAlign": "left", "titleBaseline": "alphabetic", "titleX": 17.5, "titleY": -12.7}}
       }},
      {"data": {"name": "labB"}, "mark": {"type": "text", "font": "Liberation Serif", "fontSize": 22.5, "color": "black", "align": "center", "baseline": "middle"},
       "encoding": {"x": {"field": "mz", "type": "quantitative"}, "y": {"field": "val", "type": "quantitative"}, "text": {"field": "label"}}},
      {"data": {"name": "arrB"}, "mark": {"type": "rule", "color": "black", "strokeWidth": 1.2},
       "encoding": {"x": {"field": "mz", "type": "quantitative"}, "y": {"field": "val", "type": "quantitative"}, "x2": {"field": "mz2"}, "y2": {"field": "val2"}}},
      {"data": {"name": "arrB"}, "mark": {"type": "point", "shape": "triangle-up", "filled": true, "size": 45, "color": "black", "opacity": 1},
       "encoding": {"x": {"field": "mz2", "type": "quantitative"}, "y": {"field": "val2", "type": "quantitative"}, "angle": {"field": "angle", "type": "quantitative", "scale": null}}}
    ]
  }
]
}
